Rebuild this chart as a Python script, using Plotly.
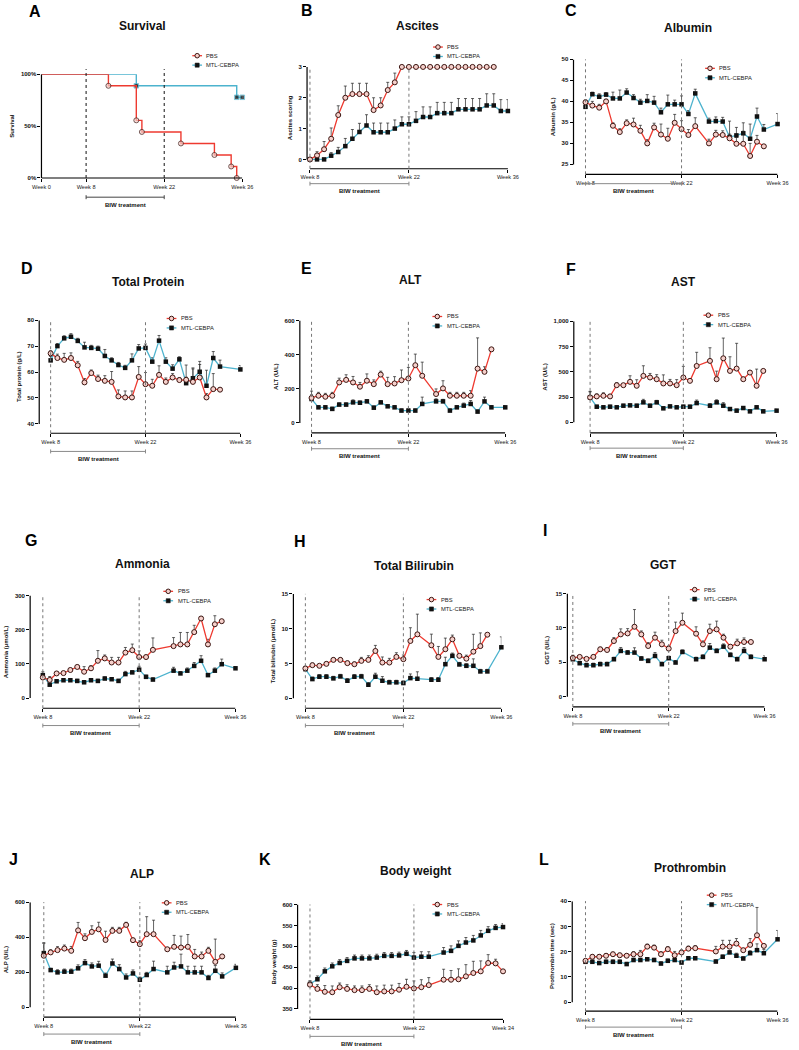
import plotly.graph_objects as go

W, H = 799, 1050
FONT = "Arial, Liberation Sans, Helvetica, sans-serif"
RED = "#EE3A30"
BLUE = "#4DB3CE"
EB = "#222222"
PBS_FILL = "#f6d0cb"
PBS_EDGE = "#3a1410"

# ---------------- data ----------------
# A  Survival (Kaplan-Meier, %)
surv_pbs_week = [0, 12, 17, 18, 25, 31, 34, 35]
surv_pbs = [100, 88.9, 55.6, 44.4, 33.3, 22.2, 11.1, 0]
surv_mtl_week = [0, 17, 35, 36]
surv_mtl = [100, 88.9, 77.8, 77.8]

# sampling weeks
wk_all_pbs = list(range(8, 35))
wk_all_mtl = list(range(8, 37))
wk_g25_pbs = list(range(8, 25)) + list(range(26, 35))
wk_g25_mtl = wk_g25_pbs + [36]
wk_g26_pbs = list(range(8, 25)) + list(range(27, 35))
wk_g26_mtl = wk_g26_pbs + [36]
wk_tp_pbs = list(range(8, 34))
wk_tp_mtl = wk_tp_pbs + [36]
wk_bw = list(range(8, 25)) + list(range(26, 35))

# B  Ascites
asc_pbs = [0, 0.13, 0.33, 0.67, 1.44, 2.0, 2.12, 2.12, 2.12, 1.6, 1.75, 2.25, 2.5, 3,
           3, 3, 3, 3, 3, 3, 3, 3, 3, 3, 3, 3, 3]
asc_pbs_err = [0, 0.12, 0.25, 0.35, 0.3, 0.38, 0.35, 0.35, 0.35, 0.4, 0.25, 0.25, 0.3, 0,
               0, 0, 0, 0, 0, 0, 0, 0, 0, 0, 0, 0, 0]
asc_mtl = [0, 0, 0, 0.12, 0.24, 0.43, 0.67, 0.89, 1.1, 0.88, 0.88, 0.88, 1.0, 1.14, 1.14,
           1.25, 1.375, 1.375, 1.5, 1.5, 1.5, 1.625, 1.625, 1.625, 1.625, 1.75, 1.75, 1.57, 1.57]
asc_mtl_err = [0, 0, 0, 0.1, 0.15, 0.25, 0.3, 0.28, 0.35, 0.3, 0.3, 0.3, 0.28, 0.24, 0.24,
               0.3, 0.33, 0.33, 0.35, 0.35, 0.35, 0.35, 0.35, 0.35, 0.35, 0.38, 0.38, 0.37, 0.37]

# C  Albumin (g/L)
alb_pbs = [39.8, 39.0, 38.5, 40.0, 34.2, 32.7, 34.8, 34.5, 33.0, 30.0, 33.8, 32.1, 31.1, 34.9, 33.4, 32.0, 34.1,
           30.0, 32.1, 32.0, 31.2, 29.9, 29.9, 27.0, 30.4, 29.3]
alb_pbs_err = [0.5, 1.0, 0.8, 0.5, 0.7, 0.8, 0.8, 1.5, 1.3, 0.9, 1.0, 2.5, 2.5, 2.0, 2.0, 1.3, 2.0,
               1.0, 1.0, 1.0, 1.0, 1.5, 3.0, 3.0, 1.5, 0]
alb_mtl = [38.7, 41.7, 41.1, 41.6, 40.7, 40.7, 42.1, 40.8, 39.7, 40.1, 39.7, 37.4, 39.3, 39.3, 39.3, 37.0, 41.9,
           35.2, 35.3, 35.2, 31.5, 31.9, 32.4, 31.1, 36.4, 33.3, 34.6]
alb_mtl_err = [1.3, 0.5, 0.7, 0.5, 1.5, 2.0, 0.9, 0.8, 0.8, 1.5, 1.5, 1.0, 2.2, 1.0, 2.0, 0.8, 1.0,
               0.8, 1.0, 1.0, 3.8, 1.9, 2.5, 3.5, 2.0, 1.2, 2.5]

# D  Total protein (g/L)
tp_pbs = [67.2, 65.4, 64.7, 65.4, 62.6, 56.0, 59.6, 57.3, 56.6, 56.2, 50.6, 50.2, 50.2, 58.1, 55.3, 54.7,
          58.9, 56.2, 57.9, 56.9, 57.0, 56.2, 57.9, 50.2, 53.4, 53.2]
tp_pbs_err = [1.0, 1.5, 2.5, 2.0, 1.5, 1.5, 1.2, 1.5, 2.0, 4.0, 2.5, 2.5, 2.5, 4.0, 4.5, 2.5,
              3.5, 1.5, 1.5, 1.0, 1.0, 5.0, 5.0, 1.5, 6.0, 0]
tp_mtl = [64.5, 70.0, 73.0, 73.6, 72.0, 69.5, 69.3, 69.0, 66.2, 64.5, 62.7, 61.6, 64.5, 69.1, 69.3, 64.0,
          72.1, 64.0, 61.3, 64.9, 55.7, 57.6, 60.1, 54.7, 65.4, 62.1, 61.0]
tp_mtl_err = [1.5, 1.0, 1.0, 1.2, 1.0, 2.0, 1.0, 1.0, 2.5, 1.0, 1.0, 1.0, 2.5, 1.5, 1.5, 1.5,
              2.0, 1.5, 1.5, 1.0, 7.0, 4.0, 4.0, 6.0, 2.5, 2.5, 1.5]

# E  ALT (U/L)
alt_pbs = [146, 159, 153, 159, 237, 252, 237, 212, 247, 227, 283, 227, 231, 250, 260, 338, 276,
           169, 202, 159, 159, 159, 159, 318, 299, 431]
alt_pbs_err = [40, 20, 20, 20, 25, 30, 35, 25, 40, 25, 20, 40, 40, 60, 65, 65, 80,
               30, 45, 20, 20, 20, 30, 180, 30, 0]
alt_mtl = [140, 91, 91, 82, 107, 107, 120, 118, 126, 89, 120, 97, 91, 72, 72, 72, 111,
           126, 126, 72, 91, 101, 111, 66, 126, 91, 91]
alt_mtl_err = [25, 10, 10, 10, 10, 10, 15, 10, 10, 10, 10, 10, 10, 10, 10, 10, 40,
               15, 12, 10, 10, 15, 20, 10, 25, 10, 10]

# F  AST (U/L)
ast_pbs = [246, 256, 262, 256, 367, 367, 400, 361, 459, 443, 426, 384, 384, 367, 443, 410, 557,
           607, 426, 633, 508, 531, 426, 492, 361, 508]
ast_pbs_err = [55, 25, 30, 20, 25, 15, 60, 60, 100, 40, 45, 85, 40, 55, 110, 20, 135,
               130, 80, 200, 140, 250, 20, 15, 165, 0]
ast_mtl = [246, 154, 148, 154, 148, 164, 167, 164, 197, 164, 197, 138, 157, 148, 154, 154, 190,
           164, 197, 164, 131, 115, 141, 108, 148, 108, 115]
ast_mtl_err = [60, 15, 15, 15, 15, 15, 15, 15, 30, 15, 20, 15, 15, 15, 15, 15, 30,
               20, 25, 30, 15, 15, 15, 15, 15, 15, 15]

# G  Ammonia (umol/L)
amm_pbs = [60, 53, 72, 73, 82, 91, 77, 87, 109, 116, 104, 104, 133, 140, 120, 120, 141,
           152, 157, 157, 193, 233, 157, 216, 225]
amm_pbs_err = [10, 10, 5, 5, 5, 5, 15, 8, 30, 10, 15, 15, 15, 18, 18, 5, 35,
               25, 35, 35, 20, 5, 15, 25, 0]
amm_mtl = [67, 39, 49, 52, 52, 50, 46, 52, 50, 57, 55, 50, 70, 75, 83, 62, 54,
           80, 72, 80, 94, 109, 67, 80, 99, 87]
amm_mtl_err = [10, 5, 5, 5, 5, 5, 5, 5, 5, 5, 5, 5, 8, 5, 10, 5, 5,
               10, 5, 8, 10, 15, 5, 8, 15, 5]

# H  Total bilirubin (umol/L)
bil_pbs = [4.29, 4.76, 4.67, 4.95, 5.52, 5.52, 5.05, 4.9, 5.38, 5.52, 6.8, 5.14, 5.14, 5.95, 5.62, 8.24, 9.19,
           7.62, 5.95, 7.05, 8.48, 6.1, 5.7, 6.7, 7.5, 9.14]
bil_pbs_err = [0.3, 0.3, 0.2, 0.3, 0.3, 0.3, 0.3, 0.3, 0.5, 0.6, 0.8, 0.8, 0.6, 0.6, 0.6, 1.9, 2.9,
               1.6, 1.5, 1.6, 0.6, 0.3, 0.5, 2.5, 1.9, 0]
bil_mtl = [4.19, 2.76, 3.1, 3.1, 2.86, 3.14, 2.52, 3.1, 3.14, 1.95, 3.1, 2.52, 2.29, 2.29, 2.19, 2.9, 2.81,
           2.67, 2.67, 4.9, 6.1, 4.86, 4.67, 4.67, 3.86, 3.86, 7.33]
bil_mtl_err = [0.3, 0.3, 0.3, 0.3, 0.3, 0.3, 0.3, 0.3, 0.3, 0.3, 0.5, 0.6, 0.3, 0.3, 0.3, 0.6, 1.0,
               0.3, 0.3, 1.0, 0.4, 0.3, 0.3, 1.0, 0.3, 0.3, 1.5]

# I  GGT (U/L)
ggt_pbs = [5.64, 5.79, 5.5, 5.79, 6.9, 6.8, 8.1, 9.07, 9.21, 10.18, 9.07, 7.38, 8.59, 7.62, 7.0, 9.55, 10.76,
           9.17, 7.62, 9.55, 9.8, 8.59, 7.28, 7.77, 7.96, 7.96]
ggt_pbs_err = [0.4, 0.2, 0.2, 0.3, 0.3, 0.3, 0.5, 0.8, 0.7, 2.5, 0.5, 0.5, 0.8, 0.6, 0.4, 1.3, 1.4,
               1.0, 0.5, 1.0, 1.2, 0.5, 0.3, 0.6, 0.6, 0]
ggt_mtl = [5.45, 4.87, 4.58, 4.58, 4.73, 4.73, 5.45, 6.66, 6.42, 6.42, 5.55, 5.21, 5.93, 4.73, 5.6, 4.97, 6.51,
           5.45, 5.79, 7.14, 6.66, 7.28, 6.08, 5.45, 6.66, 5.79, 5.45]
ggt_mtl_err = [0.3, 0.3, 0.3, 0.3, 0.3, 0.3, 0.3, 0.5, 0.3, 0.7, 0.3, 0.3, 0.5, 0.3, 0.3, 0.3, 0.3,
               0.3, 0.3, 0.6, 0.3, 0.4, 0.3, 0.3, 0.5, 0.3, 0.5]

# J  ALP (U/L)
alp_pbs = [294, 313, 326, 335, 322, 439, 394, 430, 445, 384, 436, 436, 470, 383, 360, 417, 417,
           331, 345, 341, 345, 290, 290, 322, 259, 290]
alp_pbs_err = [70, 15, 20, 20, 25, 45, 25, 35, 40, 50, 20, 20, 15, 10, 20, 100, 80,
               5, 65, 65, 70, 40, 25, 20, 130, 0]
alp_mtl = [309, 212, 199, 203, 203, 222, 252, 233, 237, 180, 250, 218, 170, 193, 157, 184, 218,
           199, 227, 233, 199, 199, 199, 167, 208, 176, 225]
alp_mtl_err = [60, 10, 15, 15, 15, 20, 20, 20, 25, 15, 25, 25, 20, 20, 15, 15, 45,
               35, 30, 70, 35, 35, 35, 15, 30, 20, 20]

# K  Body weight (g)
bw_pbs = [408, 398, 391, 390, 402, 398, 395, 395, 398, 390, 392, 392, 396, 403, 399, 402, 407,
          420, 420, 421, 428, 436, 440, 460, 459, 440]
bw_pbs_err = [8, 10, 15, 15, 10, 10, 10, 10, 10, 15, 15, 15, 15, 18, 18, 18, 18,
              25, 22, 25, 28, 28, 25, 20, 10, 0]
bw_mtl = [409.5, 421, 440, 452, 460, 465, 471, 471, 471, 473, 477, 477, 478, 482, 473, 475, 475,
          485, 489, 501, 509, 514, 526, 537, 544, 546]
bw_mtl_err = [8, 8, 8, 8, 8, 8, 8, 8, 8, 8, 8, 8, 8, 8, 12, 12, 12,
              12, 12, 12, 12, 12, 12, 10, 8, 8]

# L  Prothrombin time (sec)
pt_pbs = [16.4, 18.0, 18.0, 18.4, 19.0, 18.6, 18.4, 19.0, 19.0, 22.0, 21.6, 19.0, 21.0, 18.6, 19.7, 21.2, 21.4,
          20.1, 22.0, 22.0, 23.2, 20.6, 22.7, 26.5, 22.3]
pt_pbs_err = [0.5, 0.8, 0.8, 0.8, 0.8, 0.8, 0.8, 1.0, 1.5, 1.0, 1.0, 1.0, 1.0, 1.5, 1.0, 1.0, 1.0,
              2.0, 2.5, 2.5, 2.0, 0.5, 2.5, 11.0, 0.5]
pt_mtl = [16.0, 16.0, 15.5, 16.0, 16.0, 16.0, 15.1, 16.7, 16.7, 17.0, 16.7, 15.3, 16.4, 16.7, 15.7, 17.4, 17.4,
          16.1, 18.0, 19.7, 18.4, 17.3, 19.4, 20.6, 19.4, 24.9]
pt_mtl_err = [0.7, 0.7, 0.7, 0.7, 0.7, 0.7, 0.7, 0.7, 0.7, 0.7, 0.7, 0.7, 0.7, 0.7, 0.7, 0.7, 0.7,
              0.7, 0.7, 0.7, 1.0, 0.7, 1.0, 2.5, 1.5, 3.5]

# ---------------- panel layout (pixel geometry) ----------------
panels = [
    dict(letter="A", title="Survival", ytitle="Survival", wk0=0, wk1=36, wticks=[0, 8, 22, 36],
         yx=33.3, x0px=33.3, x1px=239.3, xy=176, ytp=71.7, ybp=176, yt=100, yb=0, dt=50,
         tpos=(136.7, 22.7), lpos=(27, 9), leg=(188, 53), biw=195.3),
    dict(letter="B", title="Ascites", ytitle="Ascites scoring", wk0=8, wk1=36, wticks=[8, 22, 36],
         yx=305.7, x0px=308.7, x1px=511.7, xy=166.7, ytp=64.3, ybp=157.3, yt=3, yb=0, dt=1,
         tpos=(419, 23.3), lpos=(306, 8), leg=(435, 44.3), biw=181.7,
         xp=wk_all_pbs, p=asc_pbs, pe=asc_pbs_err, xm=wk_all_mtl, m=asc_mtl, me=asc_mtl_err),
    dict(letter="C", title="Albumin", ytitle="Albumin (g/L)", wk0=8, wk1=36, wticks=[8, 22, 36],
         yx=579, x0px=591.3, x1px=788.3, xy=172.3, ytp=56.7, ybp=162.3, yt=50, yb=25, dt=5,
         tpos=(696, 25), lpos=(576, 8), leg=(714, 65.7), biw=181.7,
         xp=wk_g25_pbs, p=alb_pbs, pe=alb_pbs_err, xm=wk_g25_mtl, m=alb_mtl, me=alb_mtl_err),
    dict(letter="D", title="Total Protein", ytitle="Total protein (g/L)", wk0=8, wk1=36, wticks=[8, 22, 36],
         yx=31, x0px=42.7, x1px=237.3, xy=432.7, ytp=319, ybp=423.3, yt=80, yb=40, dt=10,
         tpos=(142.7, 280.7), lpos=(18, 266.7), leg=(161.7, 317.3), biw=451,
         xp=wk_tp_pbs, p=tp_pbs, pe=tp_pbs_err, xm=wk_tp_mtl, m=tp_mtl, me=tp_mtl_err),
    dict(letter="E", title="ALT", ytitle="ALT (U/L)", wk0=8, wk1=36, wticks=[8, 22, 36],
         yx=298.3, x0px=310.3, x1px=509, xy=432.3, ytp=319.3, ybp=422.3, yt=600, yb=0, dt=200,
         tpos=(411.7, 278.3), lpos=(305, 266.7), leg=(434.3, 315.3), biw=448.3,
         xp=wk_g25_pbs, p=alt_pbs, pe=alt_pbs_err, xm=wk_g25_mtl, m=alt_mtl, me=alt_mtl_err),
    dict(letter="F", title="AST", ytitle="AST (U/L)", wk0=8, wk1=36, wticks=[8, 22, 36],
         yx=579.3, x0px=596, x1px=787.3, xy=432.3, ytp=320, ybp=421.7, yt=1000, yb=0, dt=250,
         tpos=(692.3, 281), lpos=(576, 268.3), leg=(712.3, 314), biw=447.7,
         xp=wk_g25_pbs, p=ast_pbs, pe=ast_pbs_err, xm=wk_g25_mtl, m=ast_mtl, me=ast_mtl_err),
    dict(letter="G", title="Ammonia", ytitle="Ammonia (µmol/L)", wk0=8, wk1=36, wticks=[8, 22, 36],
         yx=21.7, x0px=34.7, x1px=232.3, xy=709.3, ytp=596, ybp=699, yt=300, yb=0, dt=100,
         tpos=(136.7, 564), lpos=(22.7, 540.7), leg=(158.3, 591.7), biw=726.7,
         xp=wk_g26_pbs, p=amm_pbs, pe=amm_pbs_err, xm=wk_g26_mtl, m=amm_mtl, me=amm_mtl_err),
    dict(letter="H", title="Total Bilirubin", ytitle="Total bilirubin (µmol/L)", wk0=8, wk1=36, wticks=[8, 22, 36],
         yx=291.7, x0px=304, x1px=505, xy=709.3, ytp=594.3, ybp=699.3, yt=15, yb=0, dt=5,
         tpos=(415, 566.7), lpos=(298.3, 541.7), leg=(428.3, 600), biw=726.7,
         xp=wk_g25_pbs, p=bil_pbs, pe=bil_pbs_err, xm=wk_g25_mtl, m=bil_mtl, me=bil_mtl_err),
    dict(letter="I", title="GGT", ytitle="GGT (U/L)", wk0=8, wk1=36, wticks=[8, 22, 36],
         yx=572.7, x0px=578.3, x1px=775, xy=708, ytp=594, ybp=697.7, yt=15, yb=0, dt=5,
         tpos=(671.7, 565), lpos=(550, 530.7), leg=(698.3, 590), biw=725,
         xp=wk_g25_pbs, p=ggt_pbs, pe=ggt_pbs_err, xm=wk_g25_mtl, m=ggt_mtl, me=ggt_mtl_err),
    dict(letter="J", title="ALP", ytitle="ALP (U/L)", wk0=8, wk1=36, wticks=[8, 22, 36],
         yx=21.7, x0px=35.7, x1px=232.7, xy=1020, ytp=904.3, ybp=1010, yt=600, yb=0, dt=200,
         tpos=(136.7, 876), lpos=(5, 861.7), leg=(156.7, 905), biw=1037,
         xp=wk_g25_pbs, p=alp_pbs, pe=alp_pbs_err, xm=wk_g25_mtl, m=alp_mtl, me=alp_mtl_err),
    dict(letter="K", title="Body weight", ytitle="Body weight (g)", wk0=8, wk1=34, wticks=[8, 22, 34],
         yx=296, x0px=308.7, x1px=506.7, xy=1022.3, ytp=906.7, ybp=1011.7, yt=600, yb=350, dt=50,
         tpos=(416.7, 873.3), lpos=(263, 861.7), leg=(434.3, 906.7), biw=1039.3,
         xp=wk_bw, p=bw_pbs, pe=bw_pbs_err, xm=wk_bw, m=bw_mtl, me=bw_mtl_err),
    dict(letter="L", title="Prothrombin", ytitle="Prothrombin time (sec)", wk0=8, wk1=36, wticks=[8, 22, 36],
         yx=577.7, x0px=591.3, x1px=788.3, xy=1014, ytp=903.3, ybp=1005, yt=40, yb=0, dt=10,
         tpos=(698.3, 870), lpos=(548.3, 861.7), leg=(715.7, 897.3), biw=1030,
         xp=wk_g26_pbs, p=pt_pbs, pe=pt_pbs_err, xm=wk_g26_mtl, m=pt_mtl, me=pt_mtl_err),
]

fig = go.Figure()
shapes = []
annotations = []
layout = {}


def px(xp):
    return xp / W


def py(yp):
    return 1 - yp / H


def legend_entries(lx, ly):
    # compact GraphPad-style legend: PBS then MTL-CEBPA
    for k, (name, col) in enumerate([("PBS", RED), ("MTL-CEBPA", BLUE)]):
        yy = ly + k * 9.5
        shapes.append(dict(type="line", xref="paper", yref="paper", x0=px(lx), x1=px(lx + 10),
                           y0=py(yy), y1=py(yy), line=dict(color=col, width=1.3)))
        cx = lx + 5
        if k == 0:
            r = 2.3
            shapes.append(dict(type="circle", xref="paper", yref="paper",
                               x0=px(cx - r), x1=px(cx + r), y0=py(yy + r), y1=py(yy - r),
                               fillcolor=PBS_FILL, line=dict(color=PBS_EDGE, width=1)))
        else:
            r = 2.1
            shapes.append(dict(type="rect", xref="paper", yref="paper",
                               x0=px(cx - r), x1=px(cx + r), y0=py(yy + r), y1=py(yy - r),
                               fillcolor="#111", line=dict(color="#111", width=0.5)))
        annotations.append(dict(xref="paper", yref="paper", x=px(lx + 12.5), y=py(yy),
                                text=name, showarrow=False, xanchor="left", yanchor="middle",
                                font=dict(size=5.8, color="#222", family=FONT)))


for i, P in enumerate(panels, start=1):
    sfx = "" if i == 1 else str(i)
    xa, ya = "x" + sfx, "y" + sfx
    kx = (P["x1px"] - P["x0px"]) / (P["wk1"] - P["wk0"])
    xmin = P["wk0"] - (P["x0px"] - P["yx"]) / kx
    ky = (P["ybp"] - P["ytp"]) / (P["yt"] - P["yb"])
    ymin = P["yb"] - (P["xy"] - P["ybp"]) / ky

    tickv = list(range(P["yb"], P["yt"] + 1, P["dt"]))
    if P["letter"] == "A":
        tickt = [f"{v}%" for v in tickv]
    else:
        tickt = [f"{v:,}" for v in tickv]

    layout["xaxis" + sfx] = dict(
        domain=[px(P["yx"]), px(P["x1px"])], range=[xmin, P["wk1"]], anchor=ya,
        showline=False, showgrid=False, zeroline=False, ticks="outside", ticklen=3,
        tickwidth=1, tickcolor="#000", tickvals=P["wticks"],
        ticktext=[f"Week {w}" for w in P["wticks"]],
        tickfont=dict(size=5.6, color="#222", family=FONT), fixedrange=True)
    layout["yaxis" + sfx] = dict(
        domain=[py(P["xy"]), py(P["ytp"])], range=[ymin, P["yt"]], anchor=xa,
        showline=False, showgrid=False, zeroline=False, ticks="outside", ticklen=3,
        tickwidth=1, tickcolor="#000", tickvals=tickv, ticktext=tickt,
        tickfont=dict(size=6, color="#111", family=FONT, weight="bold"),
        title=dict(text=P["ytitle"], standoff=5,
                   font=dict(size=6, color="#111", family=FONT, weight="bold")),
        fixedrange=True)

    # offset axis lines (GraphPad style)
    shapes.append(dict(type="line", xref=xa, yref=ya + " domain", x0=P["wk0"], x1=P["wk1"],
                       y0=0, y1=0, line=dict(color="#000", width=1.2)))
    shapes.append(dict(type="line", xref=xa + " domain", yref=ya, x0=0, x1=0,
                       y0=P["yb"], y1=P["yt"], line=dict(color="#000", width=1.2)))
    # dotted treatment markers at week 8 and 22
    dcol = "#111" if P["letter"] == "A" else "#777"
    for wv in (8, 22):
        shapes.append(dict(type="line", xref=xa, yref=ya + " domain", x0=wv, x1=wv,
                           y0=0, y1=1.05 if P["letter"] == "A" else 1.0,
                           line=dict(color=dcol, width=1, dash="dot")))
    # BIW treatment bracket
    bcol = "#444" if P["letter"] == "A" else "#8a8a8a"
    by = py(P["biw"])
    shapes.append(dict(type="line", xref=xa, yref="paper", x0=8, x1=22, y0=by, y1=by,
                       line=dict(color=bcol, width=1)))
    for wv in (8, 22):
        shapes.append(dict(type="line", xref=xa, yref="paper", x0=wv, x1=wv,
                           y0=by - 2 / H, y1=by + 2 / H, line=dict(color=bcol, width=1)))
    annotations.append(dict(xref=xa, yref="paper", x=15, y=py(P["biw"] + 7.5),
                            text="<b>BIW treatment</b>", showarrow=False,
                            font=dict(size=6, color="#111", family=FONT),
                            xanchor="center", yanchor="middle"))
    # panel title and letter
    annotations.append(dict(xref="paper", yref="paper", x=px(P["tpos"][0]), y=py(P["tpos"][1]),
                            text="<b>" + P["title"] + "</b>", showarrow=False,
                            font=dict(size=12, color="#111", family=FONT),
                            xanchor="center", yanchor="middle"))
    annotations.append(dict(xref="paper", yref="paper", x=px(P["lpos"][0]), y=py(P["lpos"][1]),
                            text="<b>" + P["letter"] + "</b>", showarrow=False,
                            font=dict(size=16, color="#000", family=FONT),
                            xanchor="center", yanchor="middle"))
    legend_entries(*P["leg"])

    if P["letter"] == "A":
        fig.add_trace(go.Scatter(
            x=surv_mtl_week, y=surv_mtl, mode="lines+markers", line_shape="hv",
            line=dict(color=BLUE, width=1.4),
            marker=dict(symbol="square", size=[0] + [4.5] * (len(surv_mtl) - 1), color="#111"),
            name="MTL-CEBPA", xaxis=xa, yaxis=ya, showlegend=False, cliponaxis=False))
        fig.add_trace(go.Scatter(
            x=surv_pbs_week, y=surv_pbs, mode="lines+markers", line_shape="hv",
            line=dict(color=RED, width=1.4),
            marker=dict(symbol="circle", size=[0] + [5] * (len(surv_pbs) - 1), color=PBS_FILL,
                        line=dict(color=PBS_EDGE, width=1)),
            name="PBS", xaxis=xa, yaxis=ya, showlegend=False, cliponaxis=False))
    else:
        fig.add_trace(go.Scatter(
            x=P["xm"], y=P["m"], mode="lines+markers",
            line=dict(color=BLUE, width=1.3),
            marker=dict(symbol="square", size=4.5, color="#111"),
            error_y=dict(type="data", symmetric=False, array=P["me"],
                         arrayminus=[0] * len(P["me"]), color=EB, thickness=0.7, width=1.5),
            name="MTL-CEBPA", xaxis=xa, yaxis=ya, showlegend=False, cliponaxis=False))
        fig.add_trace(go.Scatter(
            x=P["xp"], y=P["p"], mode="lines+markers",
            line=dict(color=RED, width=1.3),
            marker=dict(symbol="circle", size=5, color=PBS_FILL,
                        line=dict(color=PBS_EDGE, width=1)),
            error_y=dict(type="data", symmetric=False, array=P["pe"],
                         arrayminus=[0] * len(P["pe"]), color=EB, thickness=0.7, width=1.5),
            name="PBS", xaxis=xa, yaxis=ya, showlegend=False, cliponaxis=False))

fig.update_layout(
    width=W, height=H, margin=dict(l=0, r=0, t=0, b=0),
    paper_bgcolor="white", plot_bgcolor="white", showlegend=False,
    font=dict(family=FONT, color="#111"),
    shapes=shapes, annotations=annotations, **layout)

fig.write_html("out.html", config={"displayModeBar": False},
               post_script="document.body.style.margin='0px';")
